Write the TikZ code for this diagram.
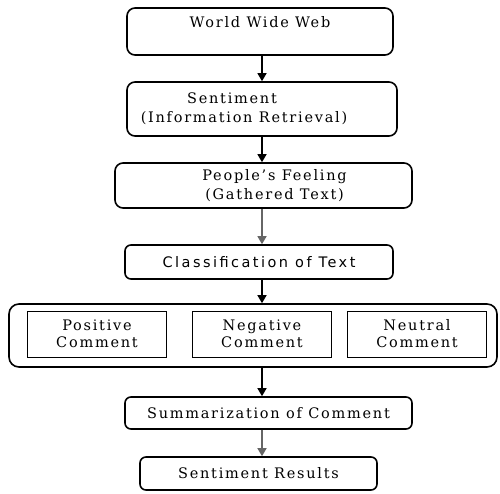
\documentclass[tikz,border=0pt]{standalone}
\usepackage{fontspec}
\setmainfont{DejaVu Serif}[LetterSpace=12]
\newfontfamily\classfont{DejaVu Sans}[LetterSpace=17]
\usepackage{tikz}
\usetikzlibrary{positioning, arrows.meta}

\begin{document}
\begin{tikzpicture}[
    x=1pt, y=-1pt,
    font=\fontsize{14.5}{19}\selectfont,
    % Define styles for the blocks
    stage/.style={rectangle, draw=black, line width=1.6pt, rounded corners=8pt, inner sep=0pt, align=center},
    group/.style={rectangle, draw=black, line width=1.6pt, rounded corners=10pt, inner sep=0pt, minimum width=488pt, minimum height=63pt},
    comment/.style={rectangle, draw=black, line width=1pt, inner sep=0pt, align=center, minimum width=139pt, minimum height=46pt, font=\fontsize{14.5}{17}\selectfont},
    arrow/.style={-{Triangle[length=8pt, width=9pt]}, line width=1.3pt}
]
\useasboundingbox[fill=white] (0,0) rectangle (500,493);

% --- Nodes ---

% Flow of stages
\node[stage, minimum width=266pt, minimum height=47pt] (web) at (260,31.5) {World Wide Web\\\mbox{}};
\node[stage, minimum width=270pt, minimum height=54pt] (retrieval) at (262,109) {Sentiment\rule{60pt}{0pt}\\(Information Retrieval)\rule{36pt}{0pt}};
\node[stage, minimum width=297pt, minimum height=45pt] (feeling) at (263.5,185.5) {\rule{22pt}{0pt}People's Feeling\\\rule{22pt}{0pt}(Gathered Text)};
\node[stage, rounded corners=6pt, minimum width=268pt, minimum height=34pt, font=\fontsize{14.5}{19}\classfont] (classify) at (259,262) {Classification of Text};

% Comment classes
\node[group] (classes) at (253,335.5) {};
\node[comment] (positive) at (97,334) {Positive\\Comment};
\node[comment] (negative) at (262,334) {Negative\\Comment};
\node[comment] (neutral) at (417,334) {Neutral\\Comment};

% Output
\node[stage, rounded corners=6pt, minimum width=287pt, minimum height=32pt] (summary) at (268.5,413) {Summarization of Comment};
\node[stage, rounded corners=6pt, minimum width=237pt, minimum height=33pt] (results) at (258.5,473.5) {Sentiment Results};

% --- Arrows ---
\coordinate (axis) at (262,0);
\draw[arrow] (web.south -| axis) -- (retrieval.north -| axis);
\draw[arrow] (retrieval.south -| axis) -- (feeling.north -| axis);
\draw[arrow, draw=black!60] (feeling.south -| axis) -- (classify.north -| axis);
\draw[arrow] (classify.south -| axis) -- (classes.north -| axis);
\draw[arrow] (classes.south -| axis) -- (summary.north -| axis);
\draw[arrow, draw=black!60] (summary.south -| axis) -- (results.north -| axis);

\end{tikzpicture}
\end{document}
